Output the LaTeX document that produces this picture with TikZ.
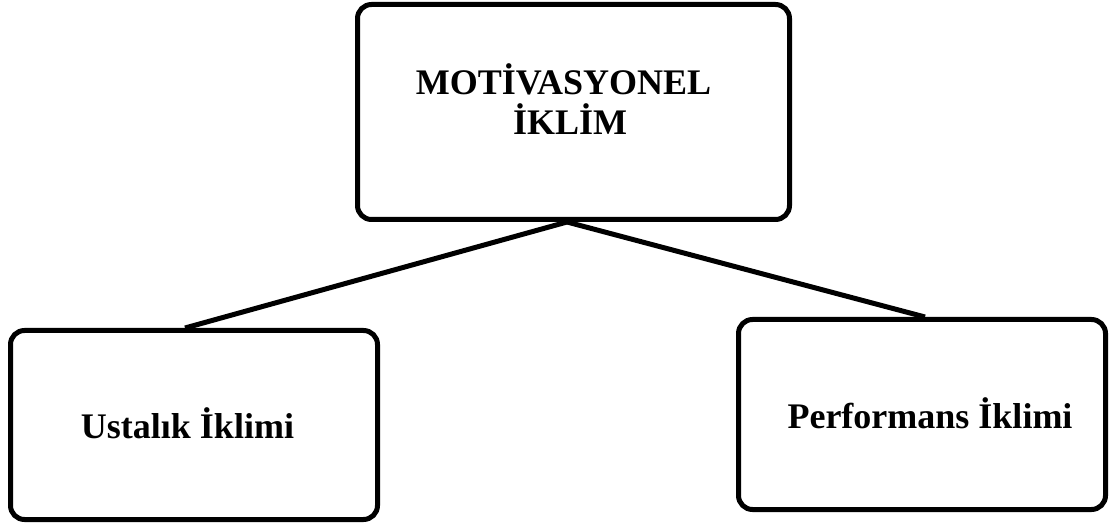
\documentclass[tikz,border=0pt]{standalone}
\usepackage{fontspec}
\setmainfont{Liberation Serif}
\usetikzlibrary{positioning}

\tikzset{
  box/.style={draw=black, line width=5pt, rounded corners=14pt, inner sep=0pt},
  boxtext/.style={font=\bfseries\fontsize{36}{40}\selectfont, anchor=base, inner sep=0pt}
}

\begin{document}
\begin{tikzpicture}[x=1pt,y=-1pt]
      \useasboundingbox (0,0) rectangle (1113,526);
      % the three boxes
      \node[box, minimum width=432pt, minimum height=215pt] (motiv) at (573.5,112) {};
      \node[box, minimum width=367pt, minimum height=189pt] (ustalik) at (194,425) {};
      \node[box, minimum width=367pt, minimum height=190pt] (perf) at (922,414.5) {};
      % texts
      \node[boxtext] (motivA) at (563.5,95) {MOTİVASYONEL};
      \node[boxtext] (motivB) at (570,135) {İKLİM};
      \node[boxtext] (ustalikT) at (187.5,438) {Ustalık İklimi};
      \node[boxtext] (perfT) at (930,428) {Performans İklimi};
      % connectors
      \draw[line width=5pt] ([xshift=-6.5pt]motiv.south) -- ([xshift=-9pt]ustalik.north);
      \draw[line width=5pt] ([xshift=-6.5pt]motiv.south) -- ([xshift=3pt]perf.north);
    \end{tikzpicture}
\end{document}
